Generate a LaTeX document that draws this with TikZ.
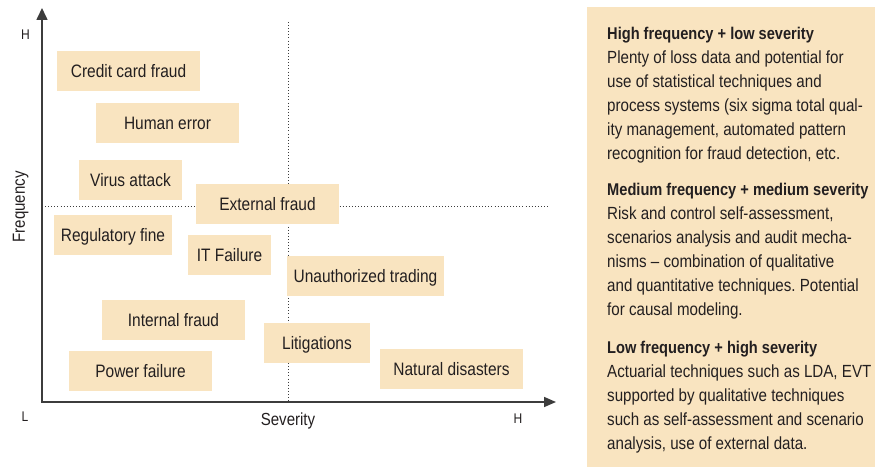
\documentclass[tikz,border=0pt]{standalone}
\usepackage{fontspec}
\setmainfont{Liberation Sans}[FakeStretch=0.86]
\usetikzlibrary{arrows.meta}
\definecolor{boxfill}{HTML}{F9E4C0}
\definecolor{ink}{HTML}{231F20}
\definecolor{axiscol}{HTML}{3C3C3C}
\newcommand{\paratitle}[1]{{\fontsize{17}{24}\selectfont\bfseries #1}}
\begin{document}
\frenchspacing
\begin{tikzpicture}[x=1pt,y=-1pt,
  riskbox/.style={fill=boxfill, inner sep=0pt, text=ink, minimum height=40pt,
    font=\fontsize{18}{20}\selectfont, text height=13pt, text depth=0pt},
  axlab/.style={text=ink, inner sep=0pt, font=\fontsize{17.5}{20}\selectfont, text height=12.5pt, text depth=0pt},
  endlab/.style={text=ink, inner sep=0pt, font=\fontsize{14}{16}\selectfont, text height=10pt, text depth=0pt},
  guide/.style={axiscol, line width=0.9pt, dash pattern=on 0.9pt off 2.2pt},
  axisline/.style={axiscol, line width=1.6pt},
  paratext/.style={text=ink, inner sep=0pt, align=left, anchor=north west,
    font=\fontsize{17.6}{24}\selectfont},
]
\useasboundingbox (0,0) rectangle (875,468);

% panel
\node[fill=boxfill, inner sep=0pt, anchor=north west, minimum width=288pt, minimum height=460pt] (panel) at (587,7) {};

% guides
\coordinate (vtop) at (288,22);
\coordinate (vbot) at (288,402);
\coordinate (hl) at (45,206);
\coordinate (hr) at (548,206);
\draw[guide] (vtop) -- (vbot);
\draw[guide] (hl) -- (hr);

% axes
\coordinate (o) at (42,402);
\coordinate (ytop) at (42,8);
\coordinate (xend) at (556,402);
\draw[axisline, {Triangle[length=12pt,width=11pt]}-{Triangle[length=12pt,width=10pt]}] (ytop) -- (o) -- (xend);

% axis labels
\node[endlab] (hy) at (25.5,35) {H};
\node[endlab] (ly) at (25,416) {L};
\node[endlab] (hx) at (518,418) {H};
\node[axlab] (sev) at (288,419) {Severity};
\node[axlab, rotate=90] (freq) at (18.5,207) {Frequency};

% risk boxes
\node[riskbox, minimum width=143pt] (credit) at (128.5,71) {Credit card fraud};
\node[riskbox, minimum width=143pt] (human) at (167.5,123) {Human error};
\node[riskbox, minimum width=103pt] (virus) at (130.5,180) {Virus attack};
\node[riskbox, minimum width=143pt] (external) at (267.5,204) {External fraud};
\node[riskbox, minimum width=118pt] (regfine) at (113,235) {Regulatory fine};
\node[riskbox, minimum width=83pt] (itfail) at (229.5,255) {IT Failure};
\node[riskbox, minimum width=157pt] (unauth) at (365.5,276) {Unauthorized trading};
\node[riskbox, minimum width=143pt] (internal) at (173.5,320) {Internal fraud};
\node[riskbox, minimum width=106pt] (litig) at (317,343) {Litigations};
\node[riskbox, minimum width=143pt] (power) at (140.5,371) {Power failure};
\node[riskbox, minimum width=143pt] (natural) at (451.5,369) {Natural disasters};

% panel text
\node[paratext] (p1) at (607,27) {\paratitle{High frequency + low severity}\\
Plenty of loss data and potential for\\
use of statistical techniques and\\
process systems (six sigma total qual-\\
ity management, automated pattern\\
recognition for fraud detection, etc.};
\node[paratext] (p2) at (607,183) {\paratitle{Medium frequency + medium severity}\\
Risk and control self-assessment,\\
scenarios analysis and audit mecha-\\
nisms -- combination of qualitative\\
and quantitative techniques. Potential\\
for causal modeling.};
\node[paratext] (p3) at (607,341) {\paratitle{Low frequency + high severity}\\
Actuarial techniques such as LDA, EVT\\
supported by qualitative techniques\\
such as self-assessment and scenario\\
analysis, use of external data.};
\end{tikzpicture}
\end{document}
